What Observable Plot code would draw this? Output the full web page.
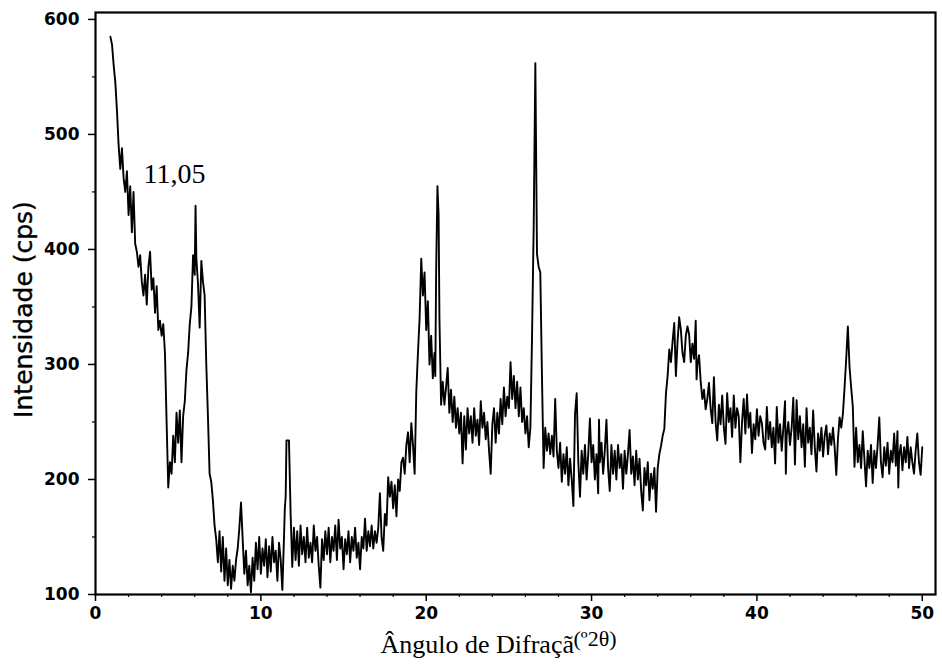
<!DOCTYPE html>
<html>
<head>
<meta charset="utf-8">
<script src="https://cdn.jsdelivr.net/npm/d3@7"></script>
<script src="https://cdn.jsdelivr.net/npm/@observablehq/plot@0.6"></script>
<style>
  html, body { margin: 0; padding: 0; background: #fff; }
  #chart { width: 942px; height: 666px; overflow: hidden; }
</style>
</head>
<body>
<div id="chart"></div>
<script>
// Diffractogram: [angle (°2θ), intensity (cps)]
const scan0to10 = [
  [0.9,585],[1.0,578],[1.1,560],[1.2,545],[1.3,520],[1.4,490],[1.5,470],[1.6,488],[1.7,462],[1.8,450],[1.9,468],
  [2.0,430],[2.1,455],[2.2,415],[2.3,450],[2.4,405],[2.5,398],[2.6,385],[2.7,395],[2.8,372],[2.9,360],
  [3.0,378],[3.1,352],[3.2,385],[3.3,398],[3.4,365],[3.5,375],[3.6,345],[3.7,368],[3.8,330],[3.9,338],
  [4.0,325],[4.1,335],[4.2,310],[4.3,250],[4.4,193],[4.5,215],[4.6,205],[4.7,238],[4.8,215],[4.9,258],
  [5.0,232],[5.1,260],[5.2,215],[5.3,255],[5.4,268],[5.5,295],[5.6,310],[5.7,335],[5.8,350],[5.9,395],
  [6.0,378],[6.05,438],[6.1,392],[6.2,370],[6.3,332],[6.4,390],[6.5,372],[6.6,360],[6.7,300],[6.8,255],[6.9,205],
  [7.0,198],[7.1,182],[7.2,160],[7.3,148],[7.4,128],[7.5,155],[7.6,120],[7.7,150],[7.8,112],[7.9,140],
  [8.0,108],[8.1,130],[8.2,105],[8.3,125],[8.4,112],[8.5,130],[8.6,140],[8.7,158],[8.8,180],[8.9,148],
  [9.0,118],[9.1,138],[9.2,108],[9.3,125],[9.4,102],[9.5,132],[9.6,112],[9.7,145],[9.8,122],[9.9,150]
];
const scan10to20 = [
  [10.0,118],[10.1,140],[10.2,125],[10.3,148],[10.4,115],[10.5,142],[10.6,120],[10.7,150],[10.8,128],[10.9,138],
  [11.0,112],[11.1,145],[11.2,130],[11.3,104],[11.4,150],[11.45,175],[11.5,185],[11.55,234],[11.7,234],[11.8,170],[11.9,124],
  [12.0,158],[12.1,130],[12.2,155],[12.3,125],[12.4,160],[12.5,135],[12.6,150],[12.7,128],[12.8,158],[12.9,132],
  [13.0,145],[13.1,128],[13.2,160],[13.3,138],[13.4,150],[13.5,125],[13.6,106],[13.7,148],[13.8,130],[13.9,155],
  [14.0,135],[14.1,158],[14.2,128],[14.3,150],[14.4,138],[14.5,160],[14.6,130],[14.7,165],[14.8,140],[14.9,150],
  [15.0,122],[15.1,148],[15.2,135],[15.3,155],[15.4,128],[15.5,150],[15.6,138],[15.7,158],[15.8,132],[15.9,145],
  [16.0,122],[16.1,150],[16.2,140],[16.3,166],[16.4,138],[16.5,155],[16.6,142],[16.7,160],[16.8,140],[16.9,155],
  [17.0,145],[17.1,158],[17.2,188],[17.3,150],[17.4,138],[17.5,170],[17.6,160],[17.7,202],[17.8,185],[17.9,198],
  [18.0,175],[18.1,195],[18.2,168],[18.3,200],[18.4,190],[18.5,215],[18.6,219],[18.7,205],[18.8,230],[18.9,241],
  [19.0,215],[19.1,249],[19.2,230],[19.3,205],[19.4,276],[19.5,310],[19.6,340],[19.7,392],[19.8,360],[19.9,380]
];
const scan20to30 = [
  [20.0,330],[20.1,355],[20.2,300],[20.3,325],[20.4,288],[20.5,310],[20.55,290],[20.6,380],[20.68,455],[20.75,430],[20.8,340],[20.9,265],
  [21.0,285],[21.1,265],[21.2,280],[21.3,297],[21.4,258],[21.5,278],[21.6,250],[21.7,272],[21.8,245],[21.9,262],
  [22.0,240],[22.1,258],[22.2,214],[22.3,255],[22.4,226],[22.5,262],[22.6,240],[22.7,255],[22.8,232],[22.9,262],
  [23.0,238],[23.1,252],[23.2,230],[23.3,268],[23.4,245],[23.5,258],[23.6,235],[23.7,250],[23.8,225],[23.9,205],
  [24.0,248],[24.1,262],[24.2,232],[24.3,258],[24.4,240],[24.5,270],[24.6,248],[24.7,280],[24.8,255],[24.9,272],
  [25.0,262],[25.1,302],[25.2,270],[25.3,290],[25.4,262],[25.5,285],[25.6,255],[25.7,280],[25.8,250],[25.9,262],
  [26.0,240],[26.1,255],[26.2,228],[26.3,245],[26.4,324],[26.5,420],[26.6,562],[26.7,396],[26.8,385],[26.9,380],
  [27.0,290],[27.1,210],[27.2,245],[27.3,225],[27.4,240],[27.5,222],[27.6,238],[27.7,220],[27.8,270],[27.9,225],
  [28.0,210],[28.1,232],[28.2,198],[28.3,222],[28.4,205],[28.5,228],[28.6,195],[28.7,218],[28.8,200],[28.9,177],
  [29.0,257],[29.1,275],[29.2,215],[29.3,185],[29.4,225],[29.5,205],[29.6,230],[29.7,200],[29.8,222],[29.9,253]
];
const scan30to40 = [
  [30.0,215],[30.1,230],[30.2,200],[30.3,222],[30.4,188],[30.45,252],[30.5,215],[30.6,232],[30.7,205],[30.8,225],
  [30.9,252],[31.0,210],[31.1,190],[31.2,230],[31.3,205],[31.4,225],[31.5,200],[31.6,230],[31.7,210],[31.8,222],[31.9,192],
  [32.0,225],[32.1,205],[32.2,222],[32.3,243],[32.4,205],[32.5,220],[32.6,195],[32.7,225],[32.8,200],[32.9,218],
  [33.0,190],[33.1,173],[33.2,210],[33.3,195],[33.4,215],[33.5,182],[33.6,205],[33.7,192],[33.8,210],[33.9,172],
  [34.0,210],[34.1,222],[34.2,229],[34.3,238],[34.4,244],[34.5,275],[34.6,290],[34.7,313],[34.8,302],[34.9,320],
  [35.0,336],[35.1,290],[35.2,320],[35.3,341],[35.4,330],[35.5,310],[35.6,302],[35.7,325],[35.8,333],[35.9,326],
  [36.0,302],[36.1,318],[36.2,305],[36.3,338],[36.35,287],[36.4,300],[36.5,308],[36.6,285],[36.7,270],[36.8,278],[36.9,261],
  [37.0,270],[37.1,284],[37.2,262],[37.3,249],[37.4,289],[37.5,250],[37.6,234],[37.7,265],[37.8,248],[37.9,273],
  [38.0,245],[38.1,231],[38.2,275],[38.3,250],[38.4,262],[38.5,237],[38.6,273],[38.7,245],[38.8,262],[38.9,255],
  [39.0,215],[39.1,250],[39.2,270],[39.3,240],[39.4,274],[39.5,245],[39.6,258],[39.7,223],[39.8,248],[39.9,235]
];
const scan40to50 = [
  [40.0,261],[40.1,238],[40.2,255],[40.3,249],[40.4,232],[40.5,226],[40.6,263],[40.7,235],[40.8,250],[40.9,228],
  [41.0,245],[41.1,214],[41.2,263],[41.3,232],[41.4,248],[41.5,225],[41.6,245],[41.7,268],[41.75,205],[41.8,238],[41.9,250],
  [42.0,230],[42.1,245],[42.2,271],[42.3,213],[42.4,269],[42.5,235],[42.6,255],[42.7,228],[42.8,248],[42.9,211],
  [43.0,262],[43.1,232],[43.2,245],[43.3,222],[43.4,260],[43.5,228],[43.6,207],[43.7,240],[43.8,225],[43.9,245],
  [44.0,220],[44.1,238],[44.2,247],[44.3,222],[44.4,240],[44.5,230],[44.6,245],[44.7,228],[44.8,204],[44.9,235],
  [45.0,254],[45.1,245],[45.2,257],[45.3,280],[45.4,305],[45.5,333],[45.6,298],[45.7,280],[45.8,263],[45.9,211],
  [46.0,245],[46.1,215],[46.2,230],[46.3,210],[46.4,242],[46.5,218],[46.6,194],[46.7,225],[46.8,210],[46.9,230],
  [47.0,197],[47.1,225],[47.2,210],[47.3,230],[47.4,254],[47.5,215],[47.6,202],[47.7,228],[47.8,212],[47.9,232],
  [48.0,205],[48.1,225],[48.2,215],[48.3,240],[48.4,212],[48.5,242],[48.55,193],[48.6,220],[48.7,230],[48.8,208],[48.9,228],
  [49.0,215],[49.1,237],[49.2,210],[49.3,228],[49.4,215],[49.5,205],[49.6,225],[49.7,240],[49.8,215],[49.9,204],[50.0,228]
];

const xMajorTicks = [0, 10, 20, 30, 40, 50];
const xMinorTicks = [2,4,6,8,12,14,16,18,22,24,26,28,32,34,36,38,42,44,46,48];
const yMajorTicks = [100, 200, 300, 400, 500, 600];
const yMinorTicks = [150, 250, 350, 450, 550];

const yTitle = "Intensidade (cps)";
const xTitle = "Ângulo de Difraçã";
const xTitleUnit = "(º2θ)";

const annotationText = ["11,05"];
const annotationAngle = [2.9];
const annotationCps = [458];

const pattern = [...scan0to10, ...scan10to20, ...scan20to30, ...scan30to40, ...scan40to50]
  .map(([angle, cps]) => ({angle, cps}));
const annotations = annotationText.map((t, i) => ({text: t, angle: annotationAngle[i], cps: annotationCps[i]}));

const sans = "DejaVu Sans";
const serif = "Liberation Serif";

const chart = Plot.plot({
  width: 942,
  height: 666,
  marginTop: 12,
  marginBottom: 72,
  marginLeft: 95,
  marginRight: 7,
  style: {background: "white", color: "black"},
  x: {domain: [0, 50.8]},
  y: {domain: [100, 606]},
  marks: [
    Plot.axisX(xMinorTicks, {tickSize: 3, tickFormat: () => "", label: null, strokeWidth: 1.2}),
    Plot.axisY(yMinorTicks, {tickSize: 3, tickFormat: () => "", label: null, strokeWidth: 1.2}),
    Plot.axisX(xMajorTicks, {tickSize: 7, tickPadding: 5, label: null, fontSize: 17, fontWeight: "bold", fontFamily: sans, strokeWidth: 1.5}),
    Plot.axisY(yMajorTicks, {tickSize: 7, tickPadding: 9, label: null, fontSize: 17, fontWeight: "bold", fontFamily: sans, strokeWidth: 1.5}),
    Plot.line(pattern, {x: "angle", y: "cps", stroke: "black", strokeWidth: 1.9, strokeLinejoin: "round"}),
    Plot.frame({stroke: "black", strokeWidth: 2.2}),
    Plot.text(annotations, {x: "angle", y: "cps", text: "text", textAnchor: "start", lineAnchor: "bottom", fontFamily: serif, fontSize: 28, fill: "black"}),
    Plot.text([yTitle], {frameAnchor: "left", textAnchor: "middle", dx: -72, dy: 6, rotate: -90, fontFamily: sans, fontSize: 25, fill: "black", stroke: "black", strokeWidth: 0.4}),
    Plot.text([xTitle], {frameAnchor: "bottom-left", dx: 285, dy: 58, textAnchor: "start", lineAnchor: "bottom", fontFamily: serif, fontSize: 26, fill: "black"}),
    Plot.text([xTitleUnit], {frameAnchor: "bottom-left", dx: 478, dy: 51, textAnchor: "start", lineAnchor: "bottom", fontFamily: serif, fontSize: 22, fill: "black"})
  ]
});
document.getElementById("chart").append(chart);
</script>
</body>
</html>
